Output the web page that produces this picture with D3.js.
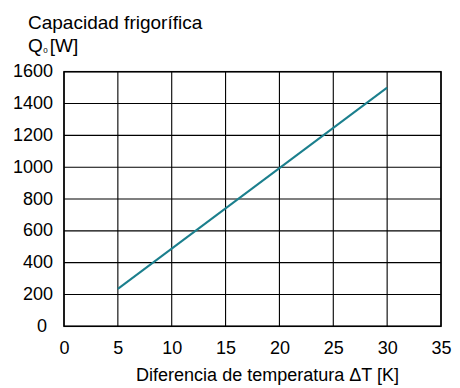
<!DOCTYPE html>
<html><head><meta charset="utf-8">
<script src="https://cdn.jsdelivr.net/npm/d3@7"></script>
<style>body{margin:0;background:#fff}svg{display:block}text{font-family:"Liberation Sans",Arial,sans-serif;fill:#000}</style>
</head><body><svg id="c" width="460" height="388"></svg>
<script>
const xTicks=[0,5,10,15,20,25,30,35];
const yTicks=[0,200,400,600,800,1000,1200,1400,1600];
const deltaT=[5,30];
const capacity=[235,1500];
const titleLines=["Capacidad frigorífica"];
const xLabel="Diferencia de temperatura ΔT [K]";

const svg=d3.select("#c");
const L=64,R=441,T=71.7,B=326.3;
const FS=18;
const x=d3.scaleLinear().domain([0,35]).range([L,R]);
const y=d3.scaleLinear().domain([0,1600]).range([B,T]);

const g=svg.append("g");
g.selectAll(".vg").data(xTicks).join("line").attr("x1",d=>x(d)).attr("x2",d=>x(d)).attr("y1",T).attr("y2",B).attr("stroke","#000").attr("stroke-width",1.1);
g.selectAll(".hg").data(yTicks).join("line").attr("x1",L).attr("x2",R).attr("y1",d=>y(d)).attr("y2",d=>y(d)).attr("stroke","#000").attr("stroke-width",1.1);
g.append("rect").attr("x",L).attr("y",T).attr("width",R-L).attr("height",B-T).attr("fill","none").attr("stroke","#000").attr("stroke-width",1.5);

const pts=deltaT.map((d,i)=>[d,capacity[i]]);
g.append("path").datum(pts).attr("d",d3.line().x(d=>x(d[0])).y(d=>y(d[1]))).attr("fill","none").attr("stroke","#1b7f8d").attr("stroke-width",2);

const xa=d3.axisBottom(x).tickValues(xTicks).tickFormat(d3.format("d")).tickSize(0).tickPadding(15);
const xg=svg.append("g").attr("transform",`translate(0,${B})`).call(xa);
xg.select(".domain").remove();
xg.selectAll("text").attr("font-size",FS).attr("font-family","Liberation Sans, Arial, sans-serif");
const ya=d3.axisLeft(y).tickValues(yTicks).tickFormat(d3.format("d")).tickSize(0).tickPadding(11);
const yg=svg.append("g").attr("transform",`translate(${L},0)`).call(ya);
yg.select(".domain").remove();
yg.selectAll("text").attr("font-size",FS).attr("font-family","Liberation Sans, Arial, sans-serif").attr("dy","0.28em");
yg.selectAll(".tick").filter(d=>d===0).select("text").attr("dx",-6);

svg.append("text").attr("x",28).attr("y",29).attr("font-size",19).text(titleLines[0]);
const q=svg.append("text").attr("x",28).attr("y",52).attr("font-size",19);
q.append("tspan").text("Q");
q.append("tspan").attr("font-size",8).attr("dy",1).attr("dx",0.5).text("0");
q.append("tspan").attr("dy",-1).attr("dx",2).text("[W]");
svg.append("text").attr("x",267.5).attr("y",381).attr("text-anchor","middle").attr("font-size",FS).text(xLabel);
</script></body></html>
